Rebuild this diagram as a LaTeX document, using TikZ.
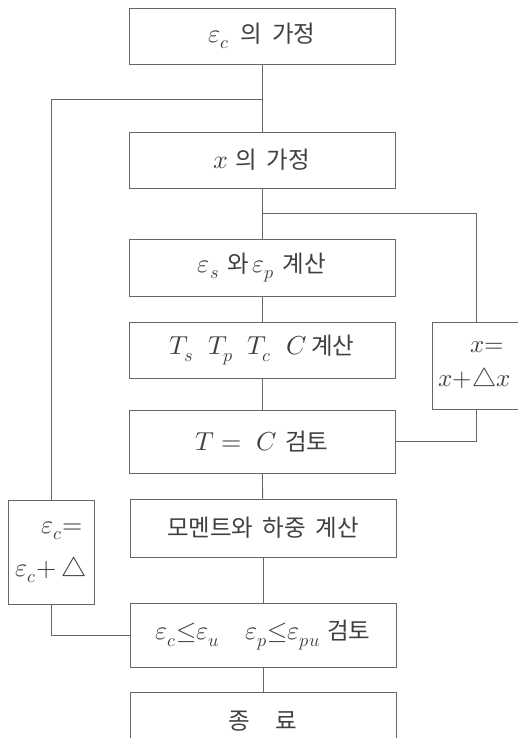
\documentclass[tikz,border=0pt]{standalone}
\usepackage{fontspec}
\usepackage{unicode-math}
\setmathfont{Latin Modern Math}
\newfontfamily\kr{Noto Sans CJK KR}
\definecolor{linec}{gray}{0.4}
\definecolor{txtc}{gray}{0.25}
\newcommand\mth[1]{{\fontsize{26}{28}\selectfont$#1$}}
\begin{document}
\begin{tikzpicture}[x=1pt,y=-1pt,
  box/.style={draw=linec, line width=0.9pt, inner sep=0pt, minimum width=266pt, minimum height=56pt,
    text=txtc, font=\kr\fontsize{23.5}{28}\selectfont},
  sidebox/.style={box, align=center},
  conn/.style={draw=linec, line width=0.9pt}]
\clip (0,0) rectangle (518,738);
\fill[white] (0,0) rectangle (518,738);
% main column
\node[box] (b1) at (262,36) {\mth{\varepsilon_c}\hspace{0.45em}의\hspace{0.45em}가정};
\node[box] (b2) at (262,160) {\mth{x}\hspace{0.3em}의\hspace{0.4em}가정};
\node[box, minimum height=57pt] (b3) at (262,267.5) {\mth{\varepsilon_s}\hspace{0.35em}와\hspace{0.15em}\mth{\varepsilon_p}\hspace{0.35em}계산};
\node[box] (b4) at (262,350) {\mth{T_s\;\; T_p\;\; T_c\;\; C}\hspace{0.2em}계산};
\node[box, minimum height=63pt] (b5) at (262,441.5) {\mth{T=\;C}\hspace{0.35em}검토};
\node[box, minimum height=58pt] (b6) at (263,528) {모멘트와\hspace{0.4em}하중\hspace{0.4em}계산};
\node[box, minimum height=64pt] (b7) at (263,635) {\mth{\varepsilon_c{\le}\varepsilon_u\quad \varepsilon_p{\le}\varepsilon_{pu}}\hspace{0.3em}검토};
\node[box, minimum height=58pt] (b8) at (263,721) {종\hspace{1.1em}료};
% side boxes
\node[sidebox, minimum width=86pt, minimum height=104pt, font=\fontsize{26}{43}\selectfont] (ec) at (51,552) {\hspace*{0.85em}$\varepsilon_c{=}$\\$\varepsilon_c{+}\,\triangle$};
\node[sidebox, minimum width=108pt, minimum height=87pt, font=\fontsize{25}{34}\selectfont] (xb) at (486,365.5) {\hspace*{0.1em}$x{=}$\\\hspace*{-0.9em}$x{+}\triangle x$};
% connectors
\coordinate (jl) at (262,99);
\coordinate (jr) at (262,213);
\coordinate (xt) at (476,322);
\coordinate (xd) at (476,409);
\draw[conn] (b1) -- (b2);
\draw[conn] (b2) -- (b3);
\draw[conn] (b3) -- (b4);
\draw[conn] (b4) -- (b5);
\draw[conn] (b5) -- (b6);
\draw[conn] (b6) -- (b7);
\draw[conn] (b7) -- (b8);
\draw[conn] (jl) -| (ec.north);
\draw[conn] (ec.south) |- (b7.west);
\draw[conn] (jr) -| (xt);
\draw[conn] (xd) |- (b5.east);
\end{tikzpicture}
\end{document}
